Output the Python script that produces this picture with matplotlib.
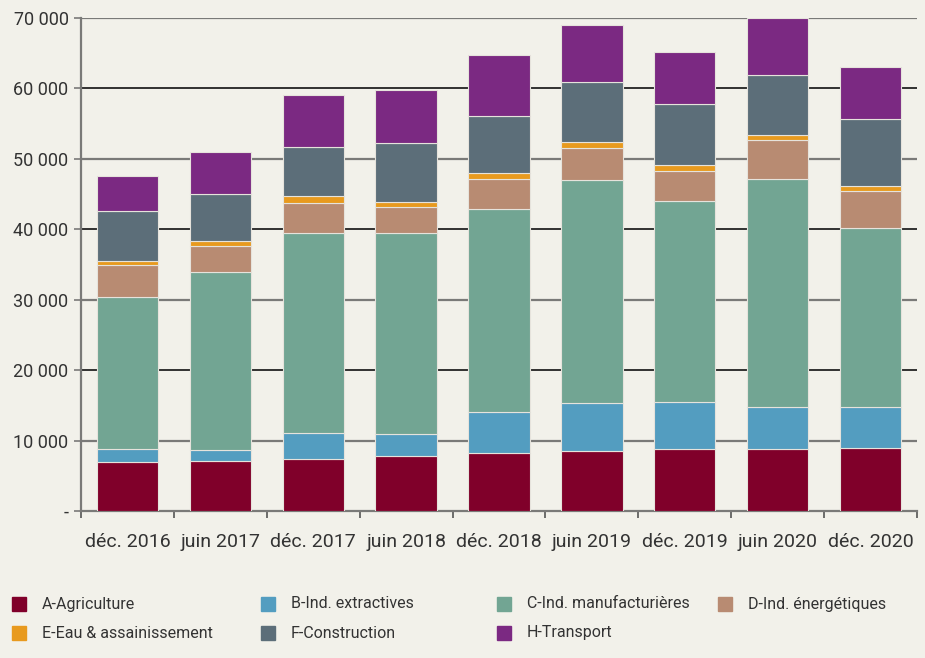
import matplotlib
matplotlib.use('Agg')
import matplotlib.pyplot as plt
import numpy as np
from matplotlib.patches import Rectangle
from matplotlib.ticker import FuncFormatter

periods = ['déc. 2016', 'juin 2017', 'déc. 2017', 'juin 2018', 'déc. 2018',
           'juin 2019', 'déc. 2019', 'juin 2020', 'déc. 2020']

agriculture = [6900, 7050, 7400, 7800, 8300, 8450, 8850, 8850, 9000]
extractives = [1850, 1570, 3700, 3170, 5780, 6820, 6580, 5920, 5730]
manufacturieres = [21670, 25360, 28350, 28450, 28870, 31710, 28590, 32370, 25420]
energetiques = [4450, 3690, 4260, 3690, 4160, 4540, 4210, 5540, 5250]
eau = [570, 620, 1080, 800, 900, 850, 900, 750, 800]
construction = [7150, 6720, 6910, 8280, 8050, 8520, 8660, 8470, 9420]
transport = [4960, 5920, 7340, 7530, 8660, 8140, 7430, 8100, 7390]

series = [
    ('A-Agriculture', agriculture, '#80002a'),
    ('B-Ind. extractives', extractives, '#539dc0'),
    ('C-Ind. manufacturières', manufacturieres, '#72a593'),
    ('D-Ind. énergétiques', energetiques, '#b88b72'),
    ('E-Eau & assainissement', eau, '#e89a1e'),
    ('F-Construction', construction, '#5c6e79'),
    ('H-Transport', transport, '#7b2982'),
]

bg = '#f2f1ea'
plt.rcParams['font.family'] = ['Roboto', 'DejaVu Sans']

fig = plt.figure(figsize=(9.25, 6.58), dpi=100, facecolor=bg)
ax = fig.add_axes([81 / 925, 1 - 511 / 658, 836 / 925, 493 / 658])
ax.set_facecolor(bg)

x = np.arange(len(periods))
bottom = np.zeros(len(periods))
for name, vals, color in series:
    vals = np.array(vals, dtype=float)
    ax.bar(x, vals, 0.66, bottom=bottom, color=color, edgecolor='#e6e3dc',
           linewidth=0.8, zorder=3)
    bottom += vals

ax.set_xlim(-0.5, len(periods) - 0.5)
ax.set_ylim(0, 70000)

# gridlines alternate dark / grey
for v in range(10000, 70001, 10000):
    c = '#222222' if (v // 10000) % 2 == 0 else '#7a7a78'
    ax.axhline(v, color=c, lw=1.6 if c != '#222222' else 1.3, zorder=1)

ax.set_yticks(range(0, 70001, 10000))
ax.yaxis.set_major_formatter(FuncFormatter(
    lambda v, p: '-' if v == 0 else '{:,.0f}'.format(v).replace(',', ' ')))
ax.tick_params(axis='y', length=5, width=1.2, color='#7a7a78', labelsize=13,
               labelcolor='#333333', pad=4)

ax.set_xticks(x)
ax.set_xticklabels(periods)
ax.set_xticks(np.arange(-0.5, len(periods)), minor=True)
ax.tick_params(axis='x', which='major', length=0, labelsize=14,
               labelcolor='#333333', pad=16)
ax.tick_params(axis='x', which='minor', length=5, width=1.2, color='#555555')

for s in ['top', 'right']:
    ax.spines[s].set_visible(False)
ax.spines['left'].set_color('#7a7a78')
ax.spines['left'].set_linewidth(1.6)
ax.spines['bottom'].set_color('#7a7a78')
ax.spines['bottom'].set_linewidth(1.6)

# legend laid out as in the original, 4 columns x 2 rows
col_x = [12, 261, 497, 718]
row_y = [604, 633]
for i, (name, _, color) in enumerate(series):
    r, c = divmod(i, 4)
    px, py = col_x[c], row_y[r]
    fig.patches.append(Rectangle((px / 925, 1 - (py + 7) / 658), 14 / 925, 14 / 658,
                                 transform=fig.transFigure, color=color))
    fig.text((px + 30) / 925, 1 - py / 658, name, fontsize=11.5,
             color='#333333', va='center', ha='left')

fig.savefig('out.png', dpi=100, facecolor=bg)
